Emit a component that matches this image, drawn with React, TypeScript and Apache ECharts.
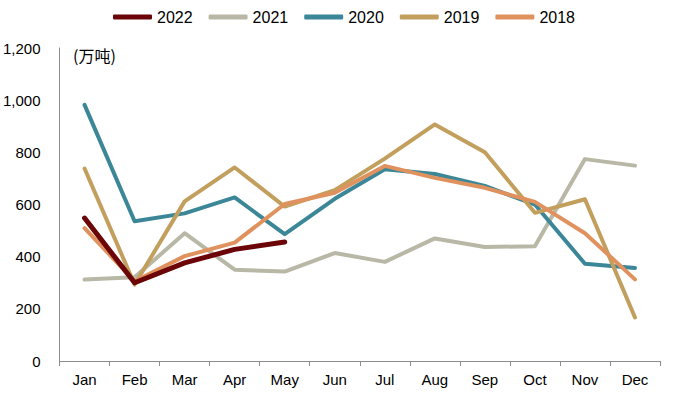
import React, { useEffect, useRef } from "react";
import * as echarts from "echarts";

const months = ["Jan", "Feb", "Mar", "Apr", "May", "Jun", "Jul", "Aug", "Sep", "Oct", "Nov", "Dec"];
const s2022 = [548, 300, 376, 428, 456];
const s2021 = [312, 321, 490, 350, 343, 414, 380, 470, 437, 440, 774, 749];
const s2020 = [982, 536, 566, 627, 486, 622, 735, 717, 671, 600, 373, 357];
const s2019 = [738, 293, 612, 742, 592, 655, 776, 907, 800, 568, 620, 167];
const s2018 = [509, 306, 402, 454, 602, 645, 748, 702, 664, 610, 490, 313];
const yTicks = [0, 200, 400, 600, 800, 1000, 1200];

const FONT = "Liberation Sans, Arial, sans-serif";

export default function App() {
  const ref = useRef<HTMLDivElement>(null);
  useEffect(() => {
    if (!ref.current) return;
    const chart = echarts.init(ref.current, undefined, { renderer: "svg" });
    const mk = (name: string, data: number[], color: string, width: number) => ({
      name,
      type: "line",
      data,
      symbol: "none",
      lineStyle: { color, width, cap: "round", join: "round" },
      itemStyle: { color },
    });
    chart.setOption({
      animation: false,
      backgroundColor: "#ffffff",
      textStyle: { fontFamily: FONT },
      legend: {
        top: 4,
        left: 108,
        data: ["2022", "2021", "2020", "2019", "2018"],
        icon: "roundRect",
        itemWidth: 39,
        itemHeight: 5,
        itemGap: 16,
        textStyle: { fontSize: 16, color: "#000", fontFamily: FONT },
      },
      grid: { left: 58, right: 21, top: 48, bottom: 36, containLabel: false },
      xAxis: {
        type: "category",
        data: months,
        boundaryGap: true,
        axisLine: { lineStyle: { color: "#8c8c8c", width: 1 } },
        axisTick: { show: true, alignWithLabel: false, length: 5, lineStyle: { color: "#8c8c8c" } },
        axisLabel: { color: "#000", fontSize: 15, margin: 11, fontFamily: FONT },
      },
      yAxis: {
        type: "value",
        min: yTicks[0],
        max: yTicks[yTicks.length - 1],
        interval: 200,
        axisLine: { show: true, lineStyle: { color: "#8c8c8c", width: 1 } },
        axisTick: { show: false },
        splitLine: { show: false },
        axisLabel: {
          color: "#000",
          fontSize: 15,
          margin: 19,
          fontFamily: FONT,
          formatter: (v: number) => v.toLocaleString("en-US"),
        },
      },
      graphic: [
        {
          type: "text",
          left: 73,
          top: 47,
          style: { text: "(万吨)", fontSize: 16, fontWeight: "normal", fill: "#000", fontFamily: "Noto Sans CJK SC, sans-serif" },
        },
      ],
      series: [
        mk("2021", s2021, "#b9b8a6", 4),
        mk("2020", s2020, "#3b8797", 4),
        mk("2019", s2019, "#c29f5d", 4),
        mk("2018", s2018, "#e0925e", 4),
        mk("2022", s2022, "#6b0507", 5),
      ],
    });
    return () => chart.dispose();
  }, []);
  return <div ref={ref} style={{ position: "fixed", left: 0, top: 0, width: 681, height: 397 }} />;
}
